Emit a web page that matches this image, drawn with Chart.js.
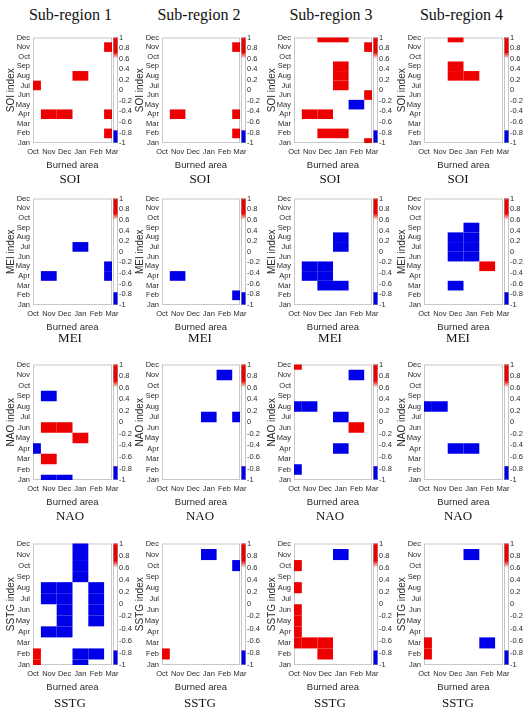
<!DOCTYPE html>
<html lang="en">
<head>
<meta charset="UTF-8">
<title>Burned area vs climate indices</title>
<script src="https://cdn.jsdelivr.net/npm/chart.js"></script>
<style>
  body { margin: 0; background: #fff; }
  #page { position: relative; width: 526px; height: 717px; overflow: hidden; background: #fff; }
  canvas.panel { position: absolute; }
  .head, .cap { position: absolute; font-family: "Liberation Serif", "Times New Roman", serif; color: #111;
                transform: translate(-50%, -50%); white-space: nowrap; line-height: 1; }
  .head { font-size: 16px; }
  .cap { font-size: 13px; }
</style>
</head>
<body>
<div id="page"></div>
<script>
// axis categories
const indexMonths = ['Jan', 'Feb', 'Mar', 'Apr', 'May', 'Jun', 'Jul', 'Aug', 'Sep', 'Oct', 'Nov', 'Dec'];
const burnMonths = ['Oct', 'Nov', 'Dec', 'Jan', 'Feb', 'Mar'];
const subRegions = ['Sub-region 1', 'Sub-region 2', 'Sub-region 3', 'Sub-region 4'];
const indexNames = ['SOI', 'MEI', 'NAO', 'SSTG'];
const cbTicks = [-1, -0.8, -0.6, -0.4, -0.2, 0, 0.2, 0.4, 0.6, 0.8, 1];

// significant correlations per panel: [burned area month, index month, r]
const soi1 = [['Mar', 'Nov', 0.85], ['Jan', 'Aug', 0.85], ['Oct', 'Jul', 0.85], ['Nov', 'Apr', 0.85], ['Dec', 'Apr', 0.85],
              ['Mar', 'Apr', 0.85], ['Mar', 'Feb', 0.85]];
const soi2 = [['Mar', 'Nov', 0.85], ['Nov', 'Apr', 0.85], ['Mar', 'Apr', 0.85], ['Mar', 'Feb', 0.85]];
const soi3 = [['Dec', 'Dec', 0.85], ['Jan', 'Dec', 0.85], ['Mar', 'Nov', 0.85], ['Jan', 'Sep', 0.85], ['Jan', 'Aug', 0.85],
              ['Jan', 'Jul', 0.85], ['Mar', 'Jun', 0.85], ['Feb', 'May', -0.85], ['Nov', 'Apr', 0.85], ['Dec', 'Apr', 0.85],
              ['Dec', 'Feb', 0.85], ['Jan', 'Feb', 0.85], ['Mar', 'Jan', 0.85]];
const soi4 = [['Dec', 'Dec', 0.85], ['Dec', 'Sep', 0.85], ['Dec', 'Aug', 0.85], ['Jan', 'Aug', 0.85]];

const mei1 = [['Jan', 'Jul', -0.85], ['Nov', 'Apr', -0.85], ['Mar', 'May', -0.85], ['Mar', 'Apr', -0.85]];
const mei2 = [['Nov', 'Apr', -0.85], ['Mar', 'Feb', -0.85]];
const mei3 = [['Jan', 'Aug', -0.85], ['Jan', 'Jul', -0.85], ['Nov', 'May', -0.85], ['Dec', 'May', -0.85], ['Nov', 'Apr', -0.85],
              ['Dec', 'Apr', -0.85], ['Dec', 'Mar', -0.85], ['Jan', 'Mar', -0.85]];
const mei4 = [['Dec', 'Aug', -0.85], ['Dec', 'Jul', -0.85], ['Dec', 'Jun', -0.85], ['Jan', 'Sep', -0.85], ['Jan', 'Aug', -0.85],
              ['Jan', 'Jul', -0.85], ['Jan', 'Jun', -0.85], ['Feb', 'May', 0.85], ['Dec', 'Mar', -0.85]];

const nao1 = [['Nov', 'Sep', -0.85], ['Nov', 'Jun', 0.85], ['Dec', 'Jun', 0.85], ['Jan', 'May', 0.85], ['Oct', 'Apr', -0.85],
              ['Nov', 'Mar', 0.85], ['Nov', 'Jan', -0.85], ['Dec', 'Jan', -0.85]];
const nao2 = [['Feb', 'Nov', -0.85], ['Jan', 'Jul', -0.85], ['Mar', 'Jul', -0.85]];
const nao3 = [['Oct', 'Dec', 0.85], ['Feb', 'Nov', -0.85], ['Oct', 'Aug', -0.85], ['Nov', 'Aug', -0.85], ['Jan', 'Jul', -0.85],
              ['Feb', 'Jun', 0.85], ['Jan', 'Apr', -0.85], ['Oct', 'Feb', -0.85]];
const nao4 = [['Oct', 'Aug', -0.85], ['Nov', 'Aug', -0.85], ['Dec', 'Apr', -0.85], ['Jan', 'Apr', -0.85]];

const sstg1 = [['Jan', 'Dec', -0.85], ['Jan', 'Nov', -0.85], ['Jan', 'Oct', -0.85], ['Jan', 'Sep', -0.85],
               ['Nov', 'Aug', -0.85], ['Nov', 'Jul', -0.85], ['Nov', 'Apr', -0.85],
               ['Dec', 'Aug', -0.85], ['Dec', 'Jul', -0.85], ['Dec', 'Jun', -0.85], ['Dec', 'May', -0.85], ['Dec', 'Apr', -0.85],
               ['Feb', 'Aug', -0.85], ['Feb', 'Jul', -0.85], ['Feb', 'Jun', -0.85], ['Feb', 'May', -0.85],
               ['Jan', 'Feb', -0.85], ['Feb', 'Feb', -0.85], ['Jan', 'Jan', -0.85], ['Oct', 'Feb', 0.85], ['Oct', 'Jan', 0.85]];
const sstg2 = [['Jan', 'Nov', -0.85], ['Mar', 'Oct', -0.85], ['Oct', 'Feb', 0.85]];
const sstg3 = [['Jan', 'Nov', -0.85], ['Oct', 'Oct', 0.85], ['Oct', 'Aug', 0.85], ['Oct', 'Jun', 0.85], ['Oct', 'May', 0.85],
               ['Oct', 'Apr', 0.85], ['Oct', 'Mar', 0.85], ['Nov', 'Mar', 0.85], ['Dec', 'Mar', 0.85], ['Dec', 'Feb', 0.85]];
const sstg4 = [['Jan', 'Nov', -0.85], ['Oct', 'Mar', 0.85], ['Oct', 'Feb', 0.85], ['Feb', 'Mar', -0.85]];

const panels = [[soi1, soi2, soi3, soi4], [mei1, mei2, mei3, mei4], [nao1, nao2, nao3, nao4], [sstg1, sstg2, sstg3, sstg4]];

// layout of the plot boxes (page pixels)
const colPlot = [[33, 112], [162, 240], [294, 372], [424, 503]];
const rowPlot = [[36, 143], [197, 305], [363, 480], [542, 665]];
const headY = 15;
const capY = [178, 337, 515, 702];
const capX = [70, 200, 330, 458];
const LEFT_W = 33, RIGHT_W = 22, BOTTOM_H = 30, TOP_PAD = 6;

const RED = 'rgb(236,0,0)';
const BLUE = 'rgb(0,0,232)';
const SANS = '"Liberation Sans Narrow", "Arial Narrow", "Liberation Sans", Arial, sans-serif';
const tickFont = { family: SANS, size: 7.5 };
const INK = '#2a2a2a';

function cellColour(v) {
  if (v >= 0.7) return RED;
  if (v <= -0.78) return BLUE;
  return '#ffffff';
}

const cellPlugin = {
  id: 'cells',
  beforeDatasetsDraw(chart) {
    const { ctx, chartArea: a } = chart;
    const xs = chart.scales.x, ys = chart.scales.y, cb = chart.scales.cb;
    ctx.save();
    // plot frame
    ctx.strokeStyle = '#c8c8c8';
    ctx.lineWidth = 1;
    ctx.strokeRect(a.left + 0.5, a.top + 0.5, a.width - 1, a.height - 1);
    // cells, clipped at the frame like the original
    chart.data.datasets[0].data.forEach(p => {
      const x0 = Math.max(a.left, xs.getPixelForValue(p.x - 0.5));
      const x1 = Math.min(a.right, xs.getPixelForValue(p.x + 0.5));
      const y0 = Math.max(a.top, ys.getPixelForValue(p.y + 0.5));
      const y1 = Math.min(a.bottom, ys.getPixelForValue(p.y - 0.5));
      ctx.fillStyle = cellColour(p.v);
      ctx.fillRect(x0, y0, x1 - x0, y1 - y0);
    });
    // colour bar
    const top = cb.getPixelForValue(1), bot = cb.getPixelForValue(-1);
    const g = ctx.createLinearGradient(0, top, 0, bot);
    const t = v => (1 - v) / 2;
    g.addColorStop(0, RED);
    g.addColorStop(t(0.72), RED);
    g.addColorStop(t(0.6), '#ffffff');
    g.addColorStop(t(-0.75), '#ffffff');
    g.addColorStop(t(-0.77), BLUE);
    g.addColorStop(1, BLUE);
    ctx.fillStyle = g;
    ctx.fillRect(a.right + 1, top, 5, bot - top);
    ctx.strokeStyle = 'rgba(160,160,160,0.6)';
    ctx.strokeRect(a.right + 1.5, top + 0.5, 4, bot - top - 1);
    ctx.restore();
  }
};

const page = document.getElementById('page');

subRegions.forEach((name, c) => {
  const d = document.createElement('div');
  d.className = 'head';
  d.textContent = name;
  d.style.left = (colPlot[c][0] + colPlot[c][1]) / 2 - 2 + 'px';
  d.style.top = headY + 'px';
  page.appendChild(d);
});

indexNames.forEach((idx, r) => {
  for (let c = 0; c < 4; c++) {
    const [L, Rt] = colPlot[c];
    const [T, B] = rowPlot[r];
    const cv = document.createElement('canvas');
    cv.className = 'panel';
    const w = (Rt - L) + LEFT_W + RIGHT_W, h = (B - T) + TOP_PAD + BOTTOM_H;
    cv.width = w; cv.height = h;
    cv.style.left = (L - LEFT_W) + 'px';
    cv.style.top = (T - TOP_PAD) + 'px';
    cv.style.width = w + 'px'; cv.style.height = h + 'px';
    page.appendChild(cv);

    const pts = panels[r][c].map(([b, m, v]) => ({ x: burnMonths.indexOf(b), y: indexMonths.indexOf(m), v: v }));

    new Chart(cv, {
      type: 'scatter',
      data: { datasets: [{ data: pts, pointRadius: 0, pointHoverRadius: 0 }] },
      options: {
        responsive: false,
        devicePixelRatio: 1,
        animation: false,
        events: [],
        layout: { padding: { top: TOP_PAD, right: 0, bottom: 0, left: 0 } },
        plugins: { legend: { display: false }, tooltip: { enabled: false } },
        scales: {
          x: {
            type: 'linear', min: 0, max: burnMonths.length - 1,
            afterFit: s => { s.height = BOTTOM_H; },
            grid: { display: false, drawTicks: false }, border: { display: false },
            ticks: { stepSize: 1, autoSkip: false, maxRotation: 0, padding: 4, font: tickFont, color: INK,
                     callback: v => burnMonths[Math.round(v)] },
            title: { display: true, text: 'Burned area', color: INK,
                     font: { family: SANS, size: 9.5 }, padding: { top: 0, bottom: 2 } }
          },
          y: {
            type: 'linear', min: 0, max: indexMonths.length - 1,
            afterFit: s => { s.width = LEFT_W; },
            grid: { display: false, drawTicks: false }, border: { display: false },
            ticks: { stepSize: 1, autoSkip: false, padding: 3, font: tickFont, color: INK,
                     callback: v => indexMonths[Math.round(v)] },
            title: { display: true, text: idx + ' index', color: INK,
                     font: { family: '"Liberation Sans", Arial, sans-serif', size: 10 }, padding: { top: 5, bottom: 0 } }
          },
          cb: {
            type: 'linear', position: 'right', min: cbTicks[0], max: cbTicks[cbTicks.length - 1],
            afterFit: s => { s.width = RIGHT_W; },
            afterBuildTicks: s => { s.ticks = cbTicks.map(v => ({ value: v })); },
            grid: { display: true, drawOnChartArea: false, drawTicks: true, tickLength: 6, color: 'rgba(0,0,0,0)' },
            border: { display: false },
            ticks: { autoSkip: false, padding: 1, font: tickFont, color: INK,
                     callback: v => String(Math.round(v * 10) / 10) }
          }
        }
      },
      plugins: [cellPlugin]
    });

    const cap = document.createElement('div');
    cap.className = 'cap';
    cap.textContent = idx;
    cap.style.left = capX[c] + 'px';
    cap.style.top = capY[r] + 'px';
    page.appendChild(cap);
  }
});
</script>
</body>
</html>
